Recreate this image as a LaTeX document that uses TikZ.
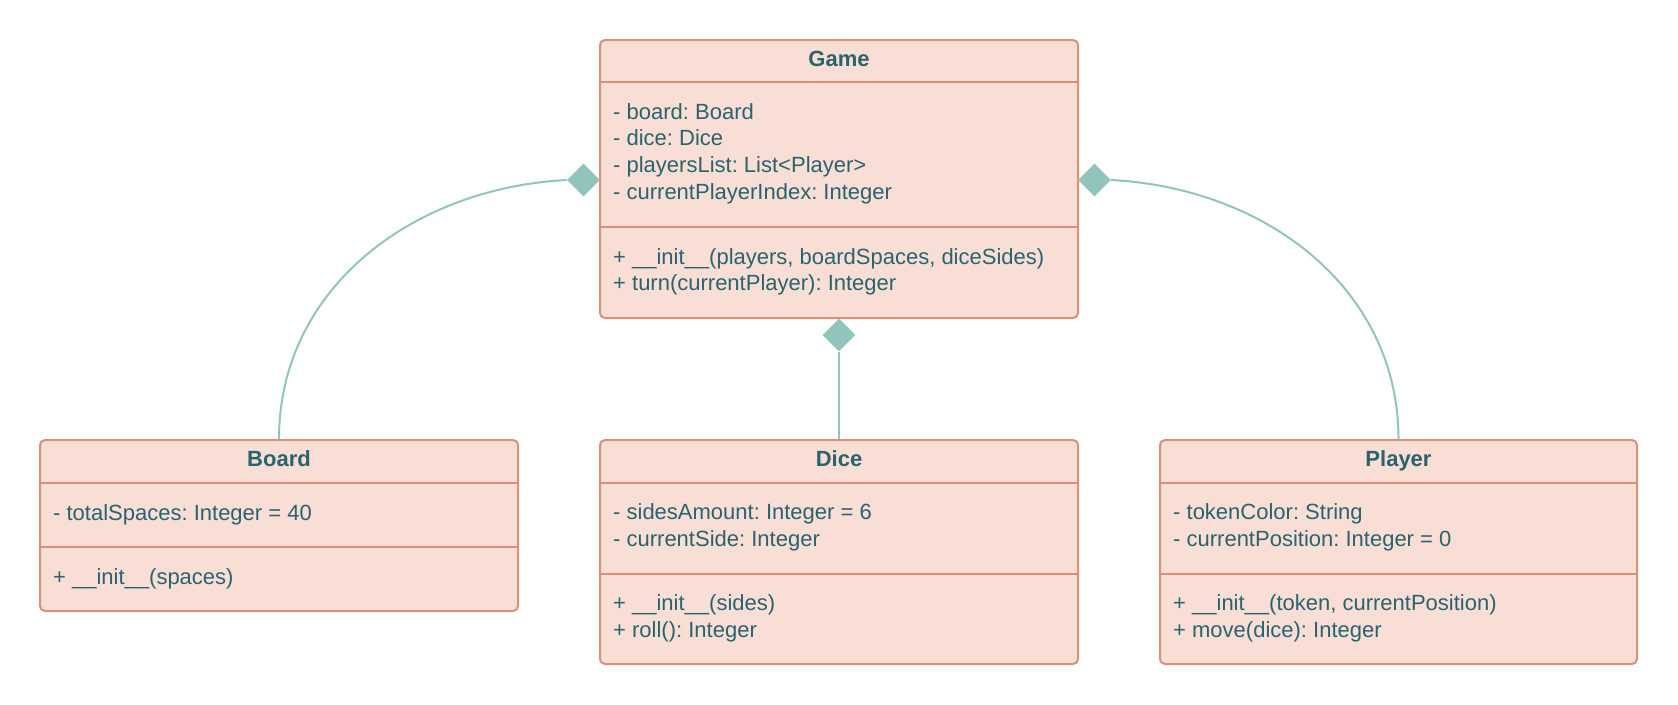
\documentclass[tikz,border=0pt]{standalone}
\usepackage{fontspec}
\setmainfont{Liberation Sans}
\usetikzlibrary{shapes.geometric}
\definecolor{boxfill}{RGB}{249,222,213}
\definecolor{boxline}{RGB}{217,145,121}
\definecolor{txt}{RGB}{41,100,110}
\definecolor{conn}{RGB}{146,196,190}
\frenchspacing
\tikzset{
  classbox/.style={draw=boxline, fill=boxfill, line width=2pt, rounded corners=5pt, inner sep=0pt},
  divider/.style={draw=boxline, line width=2pt},
  member/.style={anchor=base west, inner sep=0pt, text=txt, font=\fontsize{22}{26}\selectfont},
  title/.style={anchor=base, inner sep=0pt, text=txt, font=\fontsize{22}{26}\selectfont\bfseries},
  compo/.style={diamond, fill=conn, draw=none, minimum width=33pt, minimum height=33pt, inner sep=0pt},
  link/.style={draw=conn, line width=2pt},
}
\begin{document}
\begin{tikzpicture}[x=1pt,y=-1pt]
\useasboundingbox (0,0) rectangle (1678,704);
% boxes
\node[classbox, minimum width=478pt, minimum height=278pt] (game) at (839,179) {};
\node[classbox, minimum width=478pt, minimum height=171pt] (board) at (279,525.5) {};
\node[classbox, minimum width=478pt, minimum height=224pt] (dice) at (839,552) {};
\node[classbox, minimum width=477pt, minimum height=224pt] (player) at (1398.5,552) {};
% dividers
\draw[divider] (600,82) -- (1078,82);
\draw[divider] (600,227) -- (1078,227);
\draw[divider] (40,483) -- (518,483);
\draw[divider] (40,547) -- (518,547);
\draw[divider] (600,483) -- (1078,483);
\draw[divider] (600,574) -- (1078,574);
\draw[divider] (1160,483) -- (1637,483);
\draw[divider] (1160,574) -- (1637,574);
% Game
\node[title] (gameT) at (839,66) {Game};
\node[member] (g1) at (613,119.2) {- board: Board};
\node[member] (g2) at (613,145.9) {- dice: Dice};
\node[member] (g3) at (613,172.6) {- playersList: List<Player>};
\node[member] (g4) at (613,199.3) {- currentPlayerIndex: Integer};
\node[member] (g5) at (613,264) {+ \_\_init\_\_(players, boardSpaces, diceSides)};
\node[member] (g6) at (613,290.7) {+ turn(currentPlayer): Integer};
% Board
\node[title] (boardT) at (279,466) {Board};
\node[member] (b1) at (53,520) {- totalSpaces: Integer = 40};
\node[member] (b2) at (53,584) {+ \_\_init\_\_(spaces)};
% Dice
\node[title] (diceT) at (839,466) {Dice};
\node[member] (d1) at (613,519.7) {- sidesAmount: Integer = 6};
\node[member] (d2) at (613,546.4) {- currentSide: Integer};
\node[member] (d3) at (613,610.4) {+ \_\_init\_\_(sides)};
\node[member] (d4) at (613,637.1) {+ roll(): Integer};
% Player
\node[title] (playerT) at (1398.5,466) {Player};
\node[member] (p1) at (1173,519.7) {- tokenColor: String};
\node[member] (p2) at (1173,546.4) {- currentPosition: Integer = 0};
\node[member] (p3) at (1173,610.4) {+ \_\_init\_\_(token, currentPosition)};
\node[member] (p4) at (1173,637.1) {+ move(dice): Integer};
% composition diamonds
\node[compo] (dL) at (583.5,180) {};
\node[compo] (dR) at (1094.5,180) {};
\node[compo] (dM) at (839,335) {};
% connectors
\draw[link] (dL.west) .. controls +(-155,8) and +(0,-150) .. (board.north);
\draw[link] (dR.east) .. controls +(155,8) and +(0,-150) .. (player.north);
\draw[link] (dM.south) -- (dice.north);
\end{tikzpicture}
\end{document}
